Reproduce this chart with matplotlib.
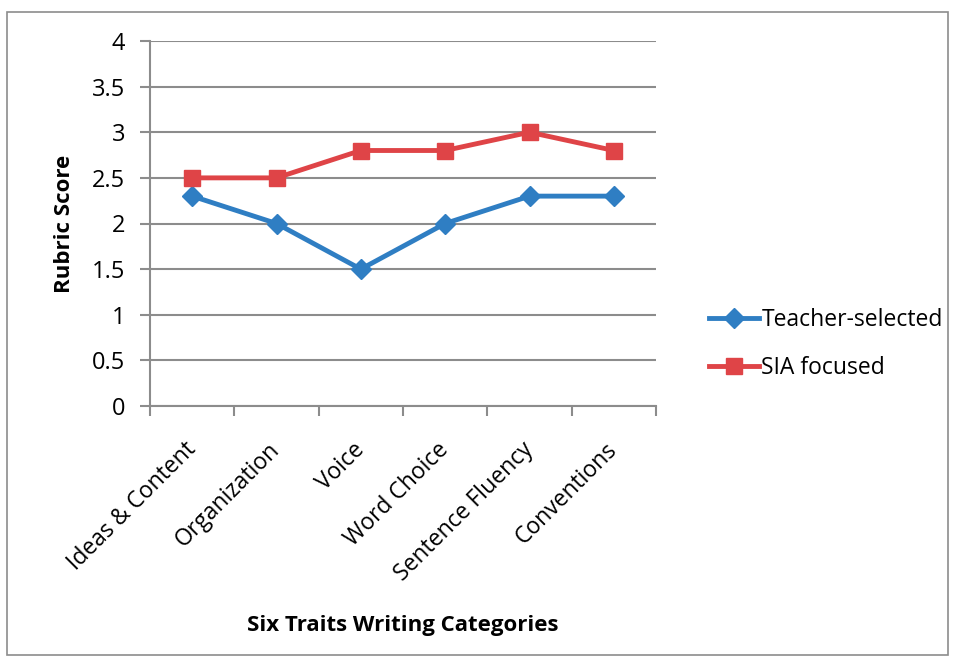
import matplotlib
matplotlib.use('Agg')
import matplotlib.pyplot as plt
from matplotlib.patches import Rectangle
import numpy as np

categories = ['Ideas & Content', 'Organization', 'Voice', 'Word Choice',
              'Sentence Fluency', 'Conventions']
teacher_selected = [2.3, 2.0, 1.5, 2.0, 2.3, 2.3]
sia_focused = [2.5, 2.5, 2.8, 2.8, 3.0, 2.8]
y_ticks = [0, 0.5, 1, 1.5, 2, 2.5, 3, 3.5, 4]

plt.rcParams['font.family'] = ['Open Sans', 'DejaVu Sans']
grid_color = '#8c8c8c'
blue = '#2f7ec3'
red = '#df4447'

fig = plt.figure(figsize=(9.56, 6.66), dpi=100)
fig.patches.append(Rectangle((7 / 956, 1 - 655 / 666), 941 / 956, 643 / 666,
                             transform=fig.transFigure, fill=False,
                             edgecolor='#8c8c8c', linewidth=1.2))

ax = fig.add_axes([150 / 956, 1 - 406 / 666, 506 / 956, 365 / 666])
x = np.arange(len(categories)) + 0.5

ax.plot(x, teacher_selected, color=blue, linewidth=3.5, marker='D',
        markersize=10, label='Teacher-selected')
ax.plot(x, sia_focused, color=red, linewidth=3.5, marker='s',
        markersize=11, label='SIA focused')

ax.set_xlim(0, len(categories))
ax.set_ylim(0, 4)
ax.set_yticks(y_ticks)
ax.set_yticklabels([f'{v:g}' for v in y_ticks], fontsize=17)
ax.yaxis.grid(True, color=grid_color, linewidth=1.5)
ax.set_axisbelow(True)

# category boundaries get the tick marks, labels sit at the centres
ax.set_xticks(np.arange(len(categories) + 1))
ax.set_xticklabels([])
ax.set_xticks(x, minor=True)
ax.set_xticklabels(categories, minor=True, rotation=45, ha='right',
                   va='center', rotation_mode='anchor', fontsize=16.5)
ax.tick_params(axis='x', which='major', length=7, color=grid_color, width=1.5)
ax.tick_params(axis='x', which='minor', length=0, pad=29)
ax.tick_params(axis='y', length=7, color=grid_color, width=1.5, pad=11)

for side in ['top', 'right']:
    ax.spines[side].set_visible(False)
for side in ['left', 'bottom']:
    ax.spines[side].set_color(grid_color)
    ax.spines[side].set_linewidth(1.5)

ax.set_ylabel('Rubric Score', fontsize=16, fontweight='bold', labelpad=12)
fig.text(403 / 956, 1 - 626 / 666, 'Six Traits Writing Categories',
         fontsize=16, fontweight='bold', ha='center', va='center')

fig.legend(loc='center left', bbox_to_anchor=(688 / 956, 1 - 344 / 666),
           frameon=False, fontsize=16.5, handlelength=2.2, handletextpad=0.1,
           labelspacing=1.05)

fig.savefig('out.png', dpi=100)
